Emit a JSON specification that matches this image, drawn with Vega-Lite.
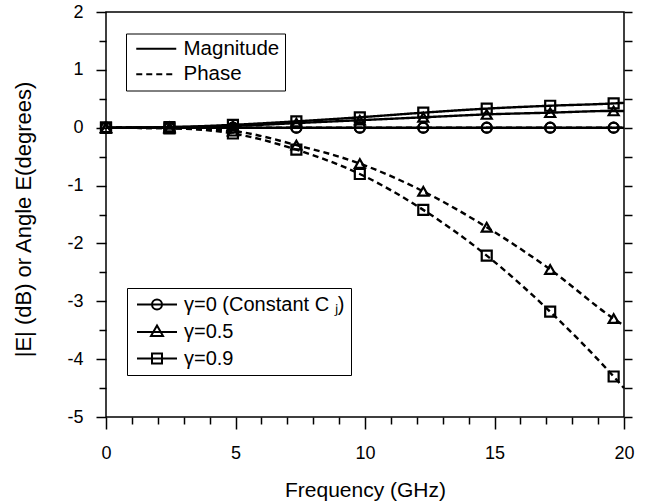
{
  "$schema": "https://vega.github.io/schema/vega-lite/v6.json",
  "width": 518,
  "height": 405,
  "autosize": {"type": "none"},
  "padding": {"left": 106, "top": 12, "right": 21, "bottom": 85},
  "background": "white",
  "config": {
    "font": "Liberation Sans",
    "view": {"stroke": "black", "strokeWidth": 1.5},
    "axis": {"grid": false, "domain": false, "tickColor": "black", "tickWidth": 1.5, "labelColor": "black", "titleColor": "black", "labelFont": "Liberation Sans", "titleFont": "Liberation Sans", "labelFontSize": 18, "titleFontSize": 19, "titleFontWeight": "normal", "labelFlush": false},
    "legend": {"labelFont": "Liberation Sans", "labelColor": "black", "labelFontSize": 19, "labelLimit": 400}
  },
  "data": {"values": [
    {"f": 0, "gamma": "γ=0 (Constant C ⱼ)", "type": "Magnitude", "v": 0},
    {"f": 2.45, "gamma": "γ=0 (Constant C ⱼ)", "type": "Magnitude", "v": 0},
    {"f": 4.9, "gamma": "γ=0 (Constant C ⱼ)", "type": "Magnitude", "v": 0},
    {"f": 7.35, "gamma": "γ=0 (Constant C ⱼ)", "type": "Magnitude", "v": 0},
    {"f": 9.8, "gamma": "γ=0 (Constant C ⱼ)", "type": "Magnitude", "v": 0},
    {"f": 12.25, "gamma": "γ=0 (Constant C ⱼ)", "type": "Magnitude", "v": 0},
    {"f": 14.7, "gamma": "γ=0 (Constant C ⱼ)", "type": "Magnitude", "v": 0},
    {"f": 17.15, "gamma": "γ=0 (Constant C ⱼ)", "type": "Magnitude", "v": 0},
    {"f": 19.6, "gamma": "γ=0 (Constant C ⱼ)", "type": "Magnitude", "v": 0},
    {"f": 20, "gamma": "γ=0 (Constant C ⱼ)", "type": "Magnitude", "v": 0},
    {"f": 0, "gamma": "γ=0 (Constant C ⱼ)", "type": "Phase", "v": 0},
    {"f": 2.45, "gamma": "γ=0 (Constant C ⱼ)", "type": "Phase", "v": 0},
    {"f": 4.9, "gamma": "γ=0 (Constant C ⱼ)", "type": "Phase", "v": 0},
    {"f": 7.35, "gamma": "γ=0 (Constant C ⱼ)", "type": "Phase", "v": 0},
    {"f": 9.8, "gamma": "γ=0 (Constant C ⱼ)", "type": "Phase", "v": 0},
    {"f": 12.25, "gamma": "γ=0 (Constant C ⱼ)", "type": "Phase", "v": 0},
    {"f": 14.7, "gamma": "γ=0 (Constant C ⱼ)", "type": "Phase", "v": 0},
    {"f": 17.15, "gamma": "γ=0 (Constant C ⱼ)", "type": "Phase", "v": 0},
    {"f": 19.6, "gamma": "γ=0 (Constant C ⱼ)", "type": "Phase", "v": 0},
    {"f": 20, "gamma": "γ=0 (Constant C ⱼ)", "type": "Phase", "v": 0},
    {"f": 0, "gamma": "γ=0.5", "type": "Magnitude", "v": 0},
    {"f": 2.45, "gamma": "γ=0.5", "type": "Magnitude", "v": 0.01},
    {"f": 4.9, "gamma": "γ=0.5", "type": "Magnitude", "v": 0.03},
    {"f": 7.35, "gamma": "γ=0.5", "type": "Magnitude", "v": 0.08},
    {"f": 9.8, "gamma": "γ=0.5", "type": "Magnitude", "v": 0.13},
    {"f": 12.25, "gamma": "γ=0.5", "type": "Magnitude", "v": 0.18},
    {"f": 14.7, "gamma": "γ=0.5", "type": "Magnitude", "v": 0.23},
    {"f": 17.15, "gamma": "γ=0.5", "type": "Magnitude", "v": 0.26},
    {"f": 19.6, "gamma": "γ=0.5", "type": "Magnitude", "v": 0.29},
    {"f": 20, "gamma": "γ=0.5", "type": "Magnitude", "v": 0.29},
    {"f": 0, "gamma": "γ=0.5", "type": "Phase", "v": 0},
    {"f": 2.45, "gamma": "γ=0.5", "type": "Phase", "v": -0.01},
    {"f": 4.9, "gamma": "γ=0.5", "type": "Phase", "v": -0.06},
    {"f": 7.35, "gamma": "γ=0.5", "type": "Phase", "v": -0.3},
    {"f": 9.8, "gamma": "γ=0.5", "type": "Phase", "v": -0.62},
    {"f": 12.25, "gamma": "γ=0.5", "type": "Phase", "v": -1.1},
    {"f": 14.7, "gamma": "γ=0.5", "type": "Phase", "v": -1.72},
    {"f": 17.15, "gamma": "γ=0.5", "type": "Phase", "v": -2.45},
    {"f": 19.6, "gamma": "γ=0.5", "type": "Phase", "v": -3.3},
    {"f": 20, "gamma": "γ=0.5", "type": "Phase", "v": -3.42},
    {"f": 0, "gamma": "γ=0.9", "type": "Magnitude", "v": 0},
    {"f": 2.45, "gamma": "γ=0.9", "type": "Magnitude", "v": 0.01},
    {"f": 4.9, "gamma": "γ=0.9", "type": "Magnitude", "v": 0.05},
    {"f": 7.35, "gamma": "γ=0.9", "type": "Magnitude", "v": 0.11},
    {"f": 9.8, "gamma": "γ=0.9", "type": "Magnitude", "v": 0.18},
    {"f": 12.25, "gamma": "γ=0.9", "type": "Magnitude", "v": 0.26},
    {"f": 14.7, "gamma": "γ=0.9", "type": "Magnitude", "v": 0.33},
    {"f": 17.15, "gamma": "γ=0.9", "type": "Magnitude", "v": 0.38},
    {"f": 19.6, "gamma": "γ=0.9", "type": "Magnitude", "v": 0.42},
    {"f": 20, "gamma": "γ=0.9", "type": "Magnitude", "v": 0.43},
    {"f": 0, "gamma": "γ=0.9", "type": "Phase", "v": 0},
    {"f": 2.45, "gamma": "γ=0.9", "type": "Phase", "v": -0.01},
    {"f": 4.9, "gamma": "γ=0.9", "type": "Phase", "v": -0.1},
    {"f": 7.35, "gamma": "γ=0.9", "type": "Phase", "v": -0.38},
    {"f": 9.8, "gamma": "γ=0.9", "type": "Phase", "v": -0.8},
    {"f": 12.25, "gamma": "γ=0.9", "type": "Phase", "v": -1.42},
    {"f": 14.7, "gamma": "γ=0.9", "type": "Phase", "v": -2.21},
    {"f": 17.15, "gamma": "γ=0.9", "type": "Phase", "v": -3.18},
    {"f": 19.6, "gamma": "γ=0.9", "type": "Phase", "v": -4.3},
    {"f": 20, "gamma": "γ=0.9", "type": "Phase", "v": -4.5}
  ]},
  "encoding": {
    "x": {"field": "f", "type": "quantitative", "scale": {"domain": [0, 20], "nice": false, "zero": false},
      "axis": {"values": [0,1,2,3,4,5,6,7,8,9,10,11,12,13,14,15,16,17,18,19,20], "labelExpr": "datum.value % 5 === 0 ? '' + datum.value : ''", "tickSize": {"condition": {"test": "datum.value % 5 === 0", "value": 12}, "value": 7}, "labelPadding": 15, "labelBaseline": "top", "title": "Frequency (GHz)", "titleFontSize": 21, "titleY": 73, "titleBaseline": "middle"}}
  },
  "layer": [
    {
      "mark": {"type": "line", "strokeWidth": 2.4, "color": "black", "interpolate": "monotone"},
      "encoding": {
        "y": {"field": "v", "type": "quantitative", "scale": {"domain": [-5, 2], "nice": false, "zero": false},
          "axis": {"values": [-5,-4.5,-4,-3.5,-3,-2.5,-2,-1.5,-1,-0.5,0,0.5,1,1.5,2], "labelExpr": "datum.value % 1 === 0 ? '' + datum.value : ''", "tickSize": {"condition": {"test": "datum.value % 1 === 0", "value": 10}, "value": 7}, "labelPadding": 13, "title": "|E| (dB) or Angle  E(degrees)", "titleFontSize": 22, "titleX": -83, "titleY": 207, "titleAlign": "center", "titleBaseline": "middle", "titleAngle": -90}},
        "detail": {"field": "gamma"},
        "strokeDash": {"field": "type", "type": "nominal", "scale": {"domain": ["Magnitude", "Phase"], "range": [[1, 0], [6, 4]]},
          "legend": {"orient": "none", "legendX": 20, "legendY": 21.5, "title": null, "strokeColor": "black", "padding": 5, "symbolType": "M-4,0H4", "symbolSize": 100, "symbolStrokeWidth": 2, "symbolStrokeColor": "black", "symbolFillColor": "transparent", "symbolOffset": 15, "labelOffset": 17, "labelFontSize": 20.5, "rowPadding": 4.5}}
      }
    },
    {
      "transform": [{"filter": "datum.f < 20"}],
      "mark": {"type": "point", "filled": false, "strokeWidth": 2.2, "color": "black", "size": 100, "opacity": 1},
      "encoding": {
        "y": {"field": "v", "type": "quantitative", "axis": null},
        "shape": {"field": "gamma", "type": "nominal", "scale": {"domain": ["γ=0 (Constant C ⱼ)", "γ=0.5", "γ=0.9"], "range": ["circle", "triangle-up", "square"]}, "legend": null}
      }
    },
    {
      "transform": [{"filter": "false"}],
      "mark": {"type": "point", "filled": false, "strokeWidth": 2, "color": "black", "size": 100},
      "encoding": {
        "y": {"field": "v", "type": "quantitative", "axis": null},
        "shape": {"field": "gamma", "type": "nominal", "scale": {"domain": ["γ=0 (Constant C ⱼ)", "γ=0.5", "γ=0.9"], "range": ["M-4,0H4M-1,0A1,1 0 1,1 1,0A1,1 0 1,1 -1,0", "M-4,0H4M0,-1.3L1.2,0.8L-1.2,0.8Z", "M-4,0H4M-1,-1H1V1H-1Z"]},
          "legend": {"orient": "none", "legendX": 21, "legendY": 276, "title": null, "strokeColor": "black", "padding": 6.5, "symbolSize": 100, "symbolStrokeWidth": 2, "symbolStrokeColor": "black", "symbolFillColor": "transparent", "symbolOpacity": 1, "symbolOffset": 13.5, "labelOffset": 17, "labelFontSize": 20, "rowPadding": 6.5}}
      }
    },
    {
      "mark": {"type": "point", "opacity": 0},
      "encoding": {
        "y": {"field": "v", "type": "quantitative", "axis": {"orient": "right", "values": [-5,-4.5,-4,-3.5,-3,-2.5,-2,-1.5,-1,-0.5,0,0.5,1,1.5,2], "labels": false, "title": null, "tickSize": 8}}
      }
    }
  ],
  "resolve": {"axis": {"y": "independent"}, "scale": {"shape": "independent"}}
}
